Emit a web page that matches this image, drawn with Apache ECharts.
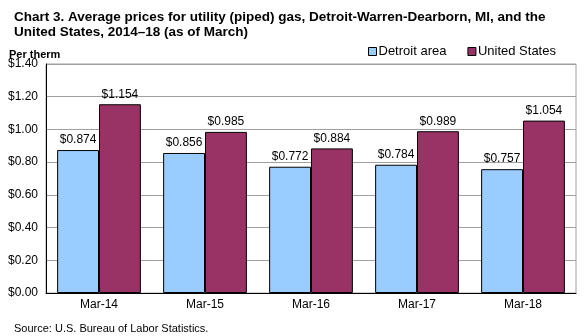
<!DOCTYPE html>
<html>
<head>
<meta charset="utf-8">
<script src="https://cdn.jsdelivr.net/npm/echarts@6/dist/echarts.min.js"></script>
<style>
  html, body { margin: 0; padding: 0; background: #fff; }
  #chart { width: 584px; height: 336px; }
</style>
</head>
<body>
<div id="chart"></div>
<script>
// Average price of utility (piped) gas per therm, as of March each year
const categories = ['Mar-14', 'Mar-15', 'Mar-16', 'Mar-17', 'Mar-18'];
const detroitArea = [0.874, 0.856, 0.772, 0.784, 0.757];
const unitedStates = [1.154, 0.985, 0.884, 0.989, 1.054];
const yTicks = [0, 0.2, 0.4, 0.6, 0.8, 1.0, 1.2, 1.4];

const font = '"Liberation Sans", Arial, sans-serif';
const chart = echarts.init(document.getElementById('chart'), null, { renderer: 'canvas' });

const labelOpt = {
  show: true,
  position: 'top',
  distance: 4,
  color: '#000',
  fontFamily: font,
  fontSize: 12,
  formatter: p => '$' + p.value.toFixed(3)
};

chart.setOption({
  animation: false,
  backgroundColor: '#fff',
  title: [
    {
      text: 'Chart 3. Average prices for utility (piped) gas, Detroit-Warren-Dearborn, MI, and the\nUnited States, 2014\u201318 (as of March)',
      left: 9,
      top: 5,
      textStyle: { fontFamily: font, fontSize: 13.5, fontWeight: 'bold', color: '#000', lineHeight: 15 }
    },
    {
      text: 'Per therm',
      left: 4,
      top: 44,
      textStyle: { fontFamily: font, fontSize: 11, fontWeight: 'bold', color: '#000' }
    },
    {
      text: 'Source: U.S. Bureau of Labor Statistics.',
      left: 9,
      top: 318,
      textStyle: { fontFamily: font, fontSize: 11, fontWeight: 'normal', color: '#000' }
    }
  ],
  legend: {
    left: 363,
    top: 40,
    itemWidth: 8,
    itemHeight: 8,
    itemGap: 21,
    textStyle: { fontFamily: font, fontSize: 13, color: '#000', padding: [0, 0, 0, -3] },
    data: [
      { name: 'Detroit area', icon: 'rect', itemStyle: { borderColor: '#000', borderWidth: 1 } },
      { name: 'United States', icon: 'rect', itemStyle: { borderColor: '#000', borderWidth: 1 } }
    ]
  },
  grid: {
    show: true,
    left: 46,
    right: 8,
    top: 64,
    bottom: 43,
    borderColor: '#a0a0a0',
    borderWidth: 1,
    containLabel: false
  },
  xAxis: {
    type: 'category',
    data: categories,
    axisLine: { show: true, lineStyle: { color: '#000', width: 1 } },
    axisTick: { show: false },
    axisLabel: { color: '#000', fontFamily: font, fontSize: 12, margin: 6 }
  },
  yAxis: {
    type: 'value',
    min: yTicks[0],
    max: yTicks[yTicks.length - 1],
    interval: 0.2,
    axisLine: { show: true, lineStyle: { color: '#000', width: 1 } },
    axisTick: { show: false },
    splitLine: { show: true, lineStyle: { color: '#a0a0a0', width: 1 } },
    axisLabel: {
      color: '#000',
      fontFamily: font,
      fontSize: 12,
      margin: 8,
      formatter: v => '$' + v.toFixed(2)
    }
  },
  series: [
    {
      name: 'Detroit area',
      type: 'bar',
      data: detroitArea,
      barGap: '0%',
      barCategoryGap: '21%',
      itemStyle: { color: '#99ccff', borderColor: '#000', borderWidth: 1 },
      label: labelOpt
    },
    {
      name: 'United States',
      type: 'bar',
      data: unitedStates,
      itemStyle: { color: '#993366', borderColor: '#000', borderWidth: 1 },
      label: labelOpt
    }
  ]
});
</script>
</body>
</html>
